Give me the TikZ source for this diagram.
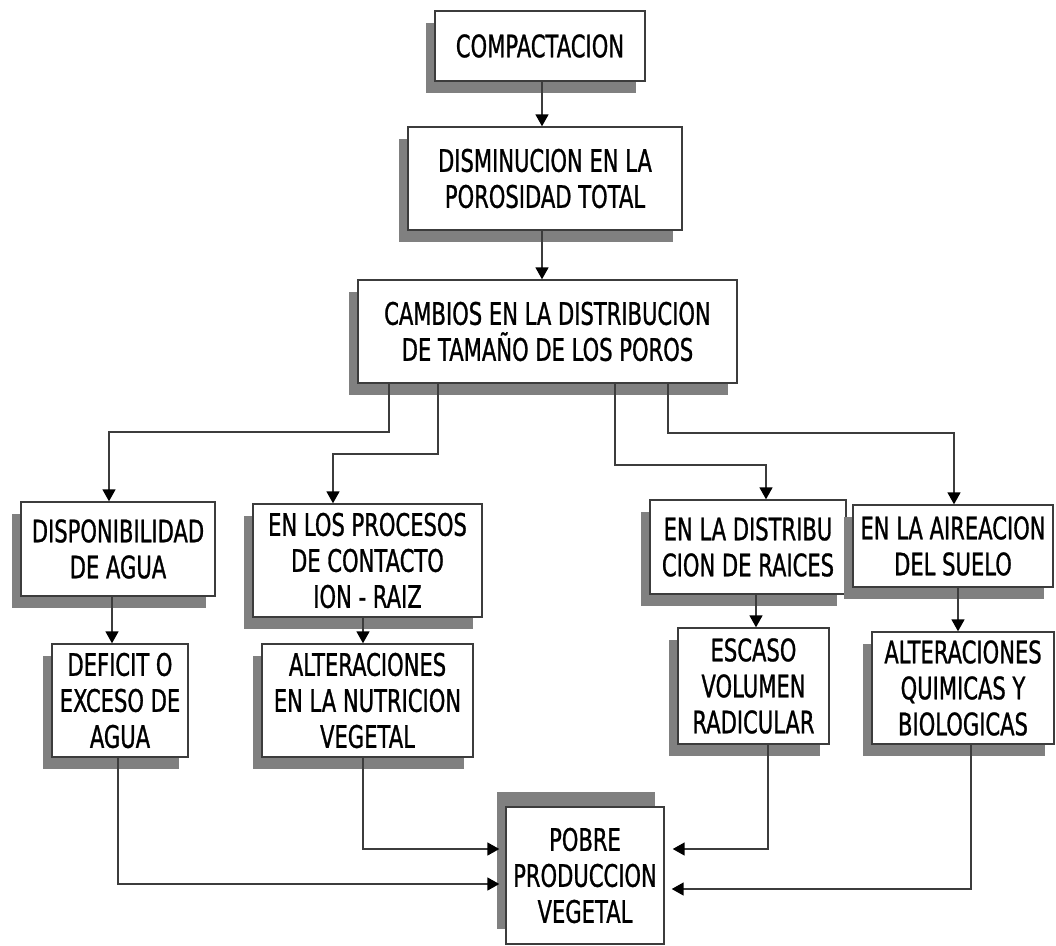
\documentclass[tikz,border=0pt]{standalone}
\usepackage{fontspec}
\setmainfont[FakeStretch=0.68,FakeBold=0.9]{DejaVu Sans}
\usetikzlibrary{shadows,arrows.meta,calc}
\definecolor{shd}{HTML}{808080}
\definecolor{ln}{HTML}{3C3C3C}
\begin{document}
\begin{tikzpicture}[x=1pt,y=-1pt,
  box/.style={draw=ln,line width=1.4pt,fill=white,align=center,inner sep=0pt,
    font=\fontsize{31}{36}\selectfont,
    drop shadow={shadow xshift=-9pt,shadow yshift=-12pt,fill=shd,opacity=1}},
  boxup/.style={draw=ln,line width=1.4pt,fill=white,align=center,inner sep=0pt,
    font=\fontsize{31}{36}\selectfont,
    drop shadow={shadow xshift=-9pt,shadow yshift=15pt,fill=shd,opacity=1}},
  conn/.style={draw=ln,line width=1.7pt,-{Triangle[length=12pt,width=13pt,black]}}]
\useasboundingbox (0,0) rectangle (1056,945);
\fill[white] (0,0) rectangle (1056,945);

\node[box,minimum width=210pt,minimum height=70pt] (comp) at (540,46) {COMPACTACION};
\node[box,minimum width=274pt,minimum height=103pt] (dism) at (545,178.5) {DISMINUCION EN LA\\POROSIDAD TOTAL};
\node[box,minimum width=379pt,minimum height=103pt] (camb) at (547.5,331.5) {CAMBIOS EN LA DISTRIBUCION\\DE TAMAÑO DE LOS POROS};

\node[box,minimum width=194pt,minimum height=94pt] (disp) at (118,549) {DISPONIBILIDAD\\DE AGUA};
\node[box,minimum width=229pt,minimum height=113pt] (proc) at (367.5,560.5) {EN LOS PROCESOS\\DE CONTACTO\\ION - RAIZ};
\node[box,minimum width=196pt,minimum height=94pt] (dist) at (748,547) {EN LA DISTRIBU\\CION DE RAICES};
\node[box,minimum width=200pt,minimum height=82pt] (aire) at (953,546) {EN LA AIREACION\\DEL SUELO};

\node[box,minimum width=136pt,minimum height=113pt] (def) at (120,700.5) {DEFICIT O\\EXCESO DE\\AGUA};
\node[box,minimum width=211pt,minimum height=113pt] (nut) at (367.5,700.5) {ALTERACIONES\\EN LA NUTRICION\\VEGETAL};
\node[box,minimum width=151pt,minimum height=116pt] (esc) at (753.5,686) {ESCASO\\VOLUMEN\\RADICULAR};
\node[box,minimum width=182pt,minimum height=112pt] (quim) at (963,688) {ALTERACIONES\\QUIMICAS Y\\BIOLOGICAS};

\node[boxup,minimum width=158pt,minimum height=137pt] (pobre) at (585,875.5) {POBRE\\PRODUCCION\\VEGETAL};

% top chain
\draw[conn] ([xshift=2pt]comp.south) -- ([xshift=2pt]comp.south |- dism.north);
\draw[conn] ([xshift=-3pt]dism.south) -- ([xshift=-3pt]dism.south |- camb.north);

% branches
\draw[conn] ($(camb.south west)+(32,0)$) -- ++(0,48) -| ($(disp.north)+(-9,0)$);
\draw[conn] ($(camb.south west)+(81,0)$) -- ++(0,70) -| ($(proc.north)+(-34.5,0)$);
\draw[conn] ($(camb.south west)+(258,0)$) -- ++(0,81) -| ($(dist.north)+(18,0)$);
\draw[conn] ($(camb.south west)+(311,0)$) -- ++(0,49) -| ($(aire.north)+(1,0)$);

% second level
\draw[conn] ($(disp.south)+(-6,0)$) -- ($(disp.south |- def.north)+(-6,0)$);
\draw[conn] ($(proc.south)+(-4.5,0)$) -- ($(proc.south |- nut.north)+(-4.5,0)$);
\draw[conn] ($(dist.south)+(8,0)$) -- ($(dist.south |- esc.north)+(8,0)$);
\draw[conn] ($(aire.south)+(5,0)$) -- ($(aire.south |- quim.north)+(5,0)$);

% into POBRE
\draw[conn,shorten >=6pt] ($(def.south)+(-2,0)$) |- ($(pobre.west)+(0,8.5)$);
\draw[conn,shorten >=6pt] ($(nut.south)+(-4.5,0)$) |- ($(pobre.west)+(0,-26.5)$);
\draw[conn,shorten >=8pt] ($(esc.south)+(14.5,0)$) |- ($(pobre.east)+(0,-26.5)$);
\draw[conn,shorten >=7pt] ($(quim.south)+(8,0)$) |- ($(pobre.east)+(0,13.5)$);
\end{tikzpicture}
\end{document}
